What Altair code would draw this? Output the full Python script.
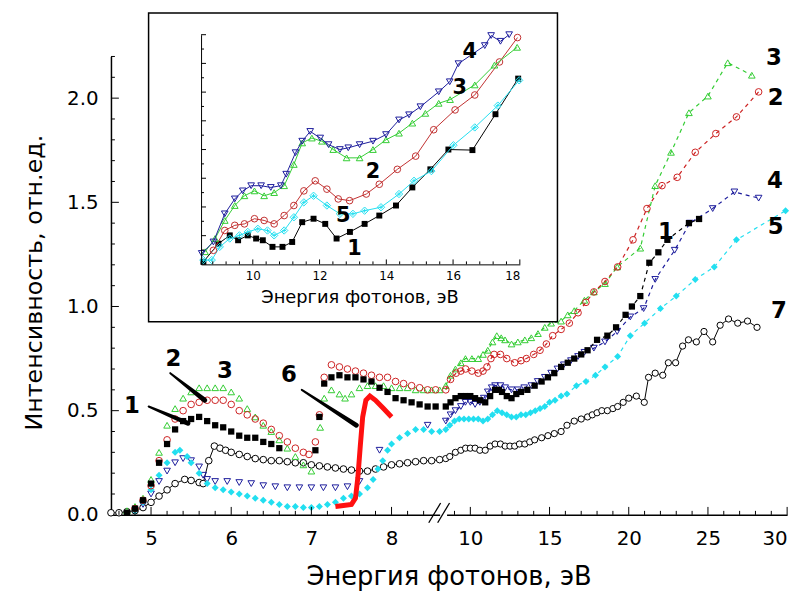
import altair as alt
import pandas as pd

FONT = "DejaVu Sans"
W, H = 683, 463

# ---------------- main plot, left part of the broken energy axis (eV) ----------------
S1_LEFT = [(4.7,0.01),(4.8,0.03),(4.9,0.07),(5.0,0.15),(5.1,0.25),(5.2,0.34),(5.3,0.41),(5.4,0.45),(5.5,0.46),(5.6,0.47),
           (5.7,0.45),(5.8,0.43),(5.9,0.42),(6.0,0.40),(6.1,0.38),(6.2,0.37),(6.3,0.37),(6.4,0.35),(6.5,0.34),(6.6,0.32),
           (7.05,0.31),(7.1,0.47),(7.16,0.63),(7.25,0.66),(7.35,0.67),(7.45,0.66),(7.55,0.66),(7.65,0.65),(7.75,0.64),
           (7.85,0.61),(7.95,0.59),(8.05,0.56),(8.15,0.55),(8.25,0.54),(8.35,0.53),(8.45,0.52),(8.55,0.52)]
S2_LEFT = [(4.8,0.03),(4.9,0.07),(5.0,0.14),(5.1,0.26),(5.2,0.36),(5.3,0.46),(5.4,0.50),(5.5,0.53),(5.6,0.54),(5.7,0.55),
           (5.8,0.55),(5.9,0.55),(6.0,0.53),(6.1,0.50),(6.2,0.48),(6.3,0.46),(6.4,0.44),(6.5,0.41),(6.6,0.38),(6.7,0.35),
           (6.8,0.32),(6.9,0.30),(6.97,0.29),(7.05,0.35),(7.1,0.48),(7.16,0.66),(7.25,0.72),(7.35,0.71),(7.45,0.70),
           (7.55,0.69),(7.65,0.68),(7.75,0.67),(7.85,0.66),(7.95,0.66),(8.05,0.64),(8.15,0.63),(8.25,0.62),(8.35,0.61),
           (8.45,0.60),(8.55,0.60)]
S3_LEFT = [(4.7,0.02),(4.8,0.04),(4.9,0.08),(5.0,0.17),(5.1,0.30),(5.2,0.43),(5.3,0.51),(5.4,0.56),(5.5,0.59),(5.6,0.61),
           (5.7,0.61),(5.8,0.61),(5.9,0.61),(6.0,0.59),(6.1,0.56),(6.2,0.51),(6.3,0.47),(6.4,0.43),(6.5,0.40),(6.6,0.36),
           (6.7,0.32),(6.8,0.28),(6.9,0.24),(7.0,0.21),(7.11,0.42),(7.16,0.56),(7.25,0.60),(7.35,0.58),(7.42,0.56),
           (7.5,0.58),(7.6,0.61),(7.7,0.62),(7.8,0.62),(7.9,0.62),(8.0,0.61),(8.1,0.61),(8.2,0.61),(8.3,0.60),(8.4,0.60),
           (8.5,0.60),(8.6,0.60)]
S4_LEFT = [(4.8,0.02),(4.9,0.05),(5.0,0.10),(5.1,0.16),(5.2,0.21),(5.3,0.25),(5.4,0.27),(5.5,0.26),(5.6,0.23),(5.65,0.19),
           (5.7,0.17),(5.8,0.16),(5.95,0.16),(6.1,0.155),(6.25,0.15),(6.4,0.14),(6.55,0.135),(6.7,0.13),(6.85,0.13),
           (7.0,0.13),(7.15,0.13),(7.3,0.13),(7.45,0.135),(7.6,0.16),(7.85,0.31),(8.45,0.43)]
S5_LEFT = [(4.8,0.02),(4.9,0.06),(5.0,0.12),(5.1,0.19),(5.2,0.25),(5.3,0.30),(5.36,0.31),(5.45,0.28),(5.5,0.25),(5.6,0.20),
           (5.7,0.15),(5.8,0.13),(5.9,0.12),(6.0,0.11),(6.1,0.10),(6.2,0.09),(6.3,0.08),(6.4,0.07),(6.5,0.06),(6.6,0.05),
           (6.7,0.04),(6.8,0.04),(6.9,0.035),(7.0,0.035),(7.1,0.04),(7.2,0.05),(7.3,0.06),(7.4,0.08),(7.5,0.09),(7.6,0.10),
           (7.7,0.13),(7.77,0.17),(7.83,0.22),(7.89,0.26),(7.95,0.31),(8.0,0.34),(8.1,0.37),(8.2,0.39),(8.3,0.41),
           (8.4,0.41),(8.5,0.40),(8.6,0.40)]
S6 = [(7.3,0.04),(7.4,0.045),(7.5,0.05),(7.55,0.08),(7.58,0.18),(7.61,0.33),(7.64,0.47),(7.68,0.55),(7.73,0.57),
      (7.8,0.55),(7.9,0.51),(8.0,0.47)]
S7_LEFT = [(4.5,0.01),(4.6,0.01),(4.7,0.015),(4.8,0.02),(4.9,0.035),(5.0,0.06),(5.1,0.09),(5.2,0.12),(5.3,0.15),(5.42,0.17),
           (5.5,0.165),(5.6,0.155),(5.65,0.15),(5.72,0.26),(5.79,0.33),(5.86,0.32),(5.93,0.31),(6.0,0.30),(6.1,0.29),
           (6.2,0.28),(6.3,0.27),(6.4,0.265),(6.5,0.26),(6.6,0.26),(6.7,0.255),(6.8,0.25),(6.9,0.25),(7.0,0.24),
           (7.1,0.235),(7.2,0.23),(7.3,0.225),(7.4,0.22),(7.5,0.215),(7.6,0.21),(7.7,0.21),(7.8,0.22),(7.9,0.23),
           (8.0,0.24),(8.1,0.245),(8.2,0.25),(8.3,0.255),(8.4,0.26),(8.5,0.26),(8.6,0.265)]

# ---------------- main plot, right part of the broken axis (eV) ----------------
S1_RIGHT = [(8.45,0.52),(8.75,0.54),(9.06,0.56),(9.4,0.57),(9.69,0.57),(10.0,0.57),(10.3,0.56),(10.6,0.55),(10.94,0.54),
            (11.25,0.57),(11.56,0.60),(11.8,0.60),(12.0,0.59),(12.3,0.57),(12.6,0.56),(12.9,0.58),(13.2,0.59),(13.6,0.60),
            (14.06,0.62),(14.5,0.64),(14.9,0.66),(15.3,0.68),(15.73,0.71),(16.15,0.73),(16.56,0.75),(17.0,0.77),
            (17.4,0.79),(18.0,0.84),(18.65,0.86),(19.2,0.90),(19.8,0.96),(20.2,1.00),(20.73,1.05),(21.3,1.21),
            (21.87,1.26),(22.44,1.32),(23.8,1.40),(24.44,1.42)]
S2_RIGHT = [(8.45,0.60),(8.75,0.65),(9.1,0.68),(9.4,0.69),(9.7,0.70),(10.1,0.69),(10.5,0.68),(10.8,0.69),(11.05,0.71),
            (11.3,0.75),(11.5,0.77),(11.9,0.77),(12.3,0.75),(12.8,0.73),(13.2,0.74),(13.54,0.75),(14.0,0.77),(14.4,0.79),
            (14.8,0.82),(15.2,0.86),(15.73,0.89),(16.25,0.92),(16.8,0.97),(17.3,1.02),(17.8,1.07),(18.5,1.12),
            (19.3,1.19),(20.27,1.32),(21.15,1.47),(22.1,1.58),(23.06,1.62),(24.2,1.74),(25.5,1.83),(26.8,1.91),(28.2,2.03)]
S3_RIGHT = [(8.45,0.62),(8.75,0.67),(9.06,0.70),(9.4,0.73),(9.69,0.75),(10.1,0.75),(10.5,0.75),(10.8,0.77),(11.1,0.79),
            (11.4,0.83),(11.67,0.86),(11.95,0.85),(12.19,0.84),(12.6,0.82),(13.0,0.83),(13.44,0.84),(13.85,0.85),
            (14.27,0.87),(14.7,0.90),(15.1,0.92),(15.73,0.93),(16.15,0.96),(16.56,0.98),(17.2,1.03),(17.8,1.07),
            (18.5,1.11),(19.27,1.19),(20.73,1.28),(21.67,1.58),(22.67,1.74),(23.8,1.93),(25.0,2.01),(26.25,2.17),(27.77,2.11)]
S4_RIGHT = [(8.45,0.45),(8.75,0.48),(9.06,0.50),(9.4,0.52),(9.69,0.54),(10.0,0.54),(10.3,0.53),(10.6,0.54),(10.85,0.56),
            (11.1,0.59),(11.35,0.61),(11.56,0.62),(11.9,0.62),(12.2,0.61),(12.6,0.60),(13.0,0.60),(13.4,0.61),(13.85,0.62),
            (14.25,0.64),(14.7,0.66),(15.1,0.68),(15.5,0.70),(15.9,0.72),(16.35,0.74),(16.8,0.76),(17.2,0.78),(17.8,0.80),
            (18.5,0.83),(19.27,0.88),(20.1,0.95),(20.94,0.99),(21.67,1.13),(22.9,1.27),(23.85,1.40),(25.3,1.47),
            (26.67,1.55),(28.2,1.52)]
S5_RIGHT = [(8.45,0.41),(8.7,0.43),(9.0,0.45),(9.3,0.46),(9.6,0.46),(9.9,0.46),(10.2,0.46),(10.5,0.46),(10.8,0.45),
            (11.1,0.46),(11.4,0.48),(11.7,0.50),(12.0,0.49),(12.3,0.48),(12.6,0.47),(12.9,0.47),(13.2,0.48),(13.5,0.48),
            (13.8,0.49),(14.1,0.50),(14.4,0.51),(14.7,0.52),(15.0,0.54),(15.35,0.55),(15.73,0.57),(16.1,0.58),(16.7,0.62),
            (17.3,0.64),(17.9,0.67),(18.5,0.71),(19.3,0.76),(20.1,0.86),(21.0,0.92),(22.0,0.99),(23.0,1.05),(24.2,1.13),
            (25.4,1.19),(26.8,1.32),(29.9,1.46)]
S7_RIGHT = [(8.45,0.27),(8.7,0.28),(9.06,0.30),(9.4,0.31),(9.7,0.32),(10.0,0.32),(10.3,0.32),(10.6,0.31),(10.94,0.31),
            (11.25,0.33),(11.56,0.34),(11.9,0.34),(12.2,0.33),(12.5,0.33),(12.8,0.33),(13.1,0.34),(13.44,0.34),(13.75,0.35),
            (14.06,0.36),(14.5,0.37),(14.9,0.38),(15.3,0.39),(15.73,0.40),(16.1,0.43),(16.56,0.45),(17.0,0.46),(17.4,0.47),
            (17.7,0.48),(18.0,0.49),(18.3,0.50),(18.65,0.50),(19.0,0.51),(19.3,0.52),(19.65,0.54),(20.0,0.56),(20.48,0.57),
            (20.98,0.54),(21.25,0.66),(21.67,0.68),(22.15,0.67),(22.5,0.73),(22.96,0.73),(23.4,0.81),(23.77,0.84),
            (24.27,0.83),(24.75,0.88),(25.3,0.83),(25.77,0.91),(26.3,0.94),(26.88,0.92),(27.5,0.93),(28.1,0.90)]

# ---------------- inset (8.5–18 eV, arbitrary units) ----------------
IN1 = [(8.52,0.09),(8.97,0.72),(9.31,1.01),(9.56,0.84),(9.85,1.01),(10.1,0.9),(10.3,0.84),(10.59,0.61),(10.89,0.61),
       (11.18,0.78),(11.48,1.47),(11.82,1.59),(12.17,1.41),(12.51,0.9),(12.91,1.13),(13.35,1.41),(13.79,1.7),(14.29,2.05),
       (14.78,2.68),(15.32,3.31),(15.86,4.0),(16.58,3.98),(17.27,5.23),(17.95,6.47)]
IN2 = [(8.82,0.49),(9.16,1.18),(9.46,1.36),(9.75,1.41),(10.05,1.59),(10.34,1.53),(10.64,1.41),(10.94,1.7),(11.23,2.05),
       (11.53,2.56),(11.87,2.91),(12.22,2.62),(12.56,2.28),(12.9,2.22),(13.4,2.45),(13.79,2.79),(14.33,3.31),(14.88,3.77),
       (15.42,4.69),(16.06,5.38),(16.65,5.9),(17.39,7.05),(17.93,7.9)]
IN3 = [(8.57,0.44),(8.87,0.9),(9.16,1.53),(9.46,2.05),(9.75,2.39),(10.05,2.56),(10.34,2.39),(10.64,2.5),(10.94,2.74),
       (11.23,3.48),(11.48,4.23),(11.77,4.4),(12.07,4.29),(12.41,4.0),(12.81,3.71),(13.2,3.71),(13.6,4.0),(13.99,4.34),
       (14.38,4.57),(14.78,4.92),(15.17,5.26),(15.57,5.61),(15.91,5.74),(16.65,6.25),(17.24,6.94),(17.92,7.56)]
IN4 = [(8.47,0.38),(8.82,0.78),(9.16,1.76),(9.46,2.28),(9.7,2.56),(9.95,2.74),(10.25,2.74),(10.54,2.68),(10.84,2.74),
       (11.0,3.14),(11.28,3.89),(11.48,4.29),(11.72,4.63),(12.02,4.40),(12.27,4.17),(12.61,4.0),(12.86,4.06),(13.2,4.17),
       (13.6,4.29),(13.99,4.52),(14.38,5.03),(14.68,5.21),(15.02,5.49),(15.57,6.01),(15.9,6.36),(16.16,6.99),
       (16.95,7.62),(17.14,7.97),(17.42,7.77),(17.68,8.0)]
IN5 = [(8.52,0.15),(8.77,0.15),(9.01,0.61),(9.31,0.9),(9.6,1.01),(9.85,1.13),(10.15,1.24),(10.44,1.18),(10.64,1.01),
       (10.94,1.18),(11.23,1.64),(11.53,2.16),(11.82,2.39),(12.22,2.05),(12.61,1.76),(13.0,1.76),(13.35,1.87),
       (13.84,1.99),(14.38,2.45),(14.83,2.91),(15.35,3.25),(16.01,4.15),(16.65,4.77),(17.34,5.53),(17.98,6.41)]

# ---------------- curve numbers and arrows ----------------
LEFT_LABELS = [("1", 4.76, 0.52), ("2", 5.28, 0.75), ("3", 5.92, 0.69), ("6", 6.72, 0.67)]
RIGHT_LABELS = [("3", 29.17, 2.19), ("2", 29.27, 2.0), ("4", 29.23, 1.60), ("5", 29.27, 1.38),
                ("1", 22.35, 1.355), ("7", 29.48, 0.98)]
INSET_LABELS = [("4", 16.5, 7.39), ("3", 16.2, 6.13), ("2", 13.6, 3.2), ("5", 12.71, 1.7), ("1", 13.05, 0.55)]
ARROWS = [("1", 4.97, 0.52, 5.46, 0.44), ("2", 5.24, 0.68, 5.67, 0.55), ("6", 6.88, 0.60, 7.56, 0.43)]

# ---------------- tick values ----------------
XL_TICKS = [5, 6, 7, 8]
XL_MINOR = [4.6, 4.8, 5.2, 5.4, 5.6, 5.8, 6.2, 6.4, 6.6, 6.8, 7.2, 7.4, 7.6, 7.8, 8.2, 8.4]
XR_TICKS = [10, 15, 20, 25, 30]
XR_MINOR = [9, 11, 12, 13, 14, 16, 17, 18, 19, 21, 22, 23, 24, 26, 27, 28, 29]
Y_TICKS = [0.0, 0.5, 1.0, 1.5, 2.0]
Y_MINOR = [0.1, 0.2, 0.3, 0.4, 0.6, 0.7, 0.8, 0.9, 1.1, 1.2, 1.3, 1.4, 1.6, 1.7, 1.8, 1.9, 2.1, 2.2]
XI_TICKS = [10, 12, 14, 16, 18]
XI_MINOR = [8.8, 9.2, 9.6, 10.4, 10.8, 11.2, 11.6, 12.4, 12.8, 13.2, 13.6, 14.4, 14.8, 15.2, 15.6, 16.4, 16.8, 17.2, 17.6]
YI_TICKS = [1, 2, 3, 4, 5, 6, 7, 8]
YI_MINOR = [0.5, 1.5, 2.5, 3.5, 4.5, 5.5, 6.5, 7.5]

BLACK, RED, GREEN, NAVY, CYAN, RED6 = "#000000", "#cc2222", "#33cc33", "#1c1c9c", "#22dff0", "#ff1010"


def tab(pairs):
    return pd.DataFrame(pairs, columns=["x", "y"])


AX = dict(grid=False, ticks=False, tickSize=0, domainColor="black", labelColor="black", labelFont=FONT)
TT = dict(titleFont=FONT, titleFontWeight="normal", titleColor="black", titleAlign="center",
          titleBaseline="alphabetic")

X_L = alt.X("x:Q", scale=alt.Scale(domain=[4.5, 8.6], range=[0, 332], nice=False, zero=False),
            axis=alt.Axis(orient="bottom", values=XL_TICKS, format="d", labelFontSize=20, labelPadding=14,
                          domainWidth=1.5, title="Энергия фотонов, эВ", titleFontSize=26, titleX=341, titleY=70,
                          **TT, **AX))
Y_L = alt.Y("y:Q", scale=alt.Scale(domain=[0, 2.2], nice=False, zero=False),
            axis=alt.Axis(orient="left", values=Y_TICKS, format=".1f", labelFontSize=20, labelPadding=13,
                          domainWidth=1.5, title="Интенсивность, отн.ед.", titleFontSize=24, titleX=-70,
                          titleY=228, titleAngle=270, **TT, **AX))
X_R = alt.X("x:Q", scale=alt.Scale(domain=[8.5, 30], range=[339, 683], nice=False, zero=False),
            axis=alt.Axis(orient="bottom", values=XR_TICKS, format="d", labelFontSize=20, labelPadding=14,
                          domainWidth=1.5, title=None, **AX))
Y_R = alt.Y("y:Q", scale=alt.Scale(domain=[0, 2.2], nice=False, zero=False), axis=None)
X_I = alt.X("x:Q", scale=alt.Scale(domain=[8.45, 18], range=[91, 413], nice=False, zero=False),
            axis=alt.Axis(orient="bottom", offset=-253, values=XI_TICKS, format="d", labelFontSize=12,
                          labelPadding=6, domainWidth=1, title="Энергия фотонов, эВ", titleFontSize=18,
                          titleX=251, titleY=39, zindex=1, **TT, **AX))
Y_I = alt.Y("y:Q", scale=alt.Scale(domain=[0, 8], range=[210, -22], nice=False, zero=False),
            axis=alt.Axis(orient="left", offset=-91, labels=False, domainWidth=1, title=None, zindex=1, **AX))


def pts(pairs, xe, ye, shape, color, filled=False, size=45, fill=None, sw=1.0):
    kw = dict(shape=shape, size=size, strokeWidth=sw, opacity=1, filled=filled)
    if fill is not None:
        kw.update(fill=fill, stroke=color)
    else:
        kw.update(color=color)
    return alt.Chart(tab(pairs)).mark_point(**kw).encode(x=xe, y=ye)


def line(pairs, xe, ye, color, width=1.0, dash=None):
    kw = dict(color=color, strokeWidth=width)
    if dash:
        kw["strokeDash"] = dash
    return alt.Chart(tab(pairs)).mark_line(**kw).encode(x=xe, y=ye)


def labels(items, xe, ye, size):
    d = pd.DataFrame(items, columns=["t", "x", "y"])
    return alt.Chart(d).mark_text(font=FONT, fontSize=size, fontWeight="bold", color="black",
                                  align="center", baseline="middle").encode(x=xe, y=ye, text="t:N")


def xticks(values, xe, ybase, length):
    return alt.Chart(pd.DataFrame({"x": values})).mark_rule(color="black", strokeWidth=1).encode(
        x=xe, y=alt.value(ybase), y2=alt.value(ybase - length))


def yticks(values, ye, xbase, length):
    return alt.Chart(pd.DataFrame({"y": values})).mark_rule(color="black", strokeWidth=1).encode(
        y=ye, x=alt.value(xbase), x2=alt.value(xbase + length))


def fixed_rule(x1, y1, x2, y2, width=1.3):
    return alt.Chart(pd.DataFrame({"k": [0]})).mark_rule(color="black", strokeWidth=width).encode(
        x=alt.value(x1), y=alt.value(y1), x2=alt.value(x2), y2=alt.value(y2))


arrow_rows = []
for name, x0, y0, x1, y1 in ARROWS:
    arrow_rows.append({"id": name, "x": x0, "y": y0, "w": 2.0})
    arrow_rows.append({"id": name, "x": x1, "y": y1, "w": 5.0})
arrows = alt.Chart(pd.DataFrame(arrow_rows)).mark_trail(color="black").encode(
    x=X_L, y=Y_L, size=alt.Size("w:Q", scale=None, legend=None), detail="id:N")

left = alt.layer(
    line(S7_LEFT, X_L, Y_L, BLACK, 1),
    pts(S7_LEFT, X_L, Y_L, "circle", BLACK, filled=True, fill="white"),
    pts(S4_LEFT, X_L, Y_L, "triangle-down", NAVY),
    pts(S5_LEFT, X_L, Y_L, "diamond", CYAN, filled=True, size=50),
    pts(S3_LEFT, X_L, Y_L, "triangle-up", GREEN),
    pts(S2_LEFT, X_L, Y_L, "circle", RED),
    pts(S1_LEFT, X_L, Y_L, "square", BLACK, filled=True, size=40),
    line(S6, X_L, Y_L, RED6, 5),
    arrows,
    labels(LEFT_LABELS, X_L, Y_L, 23),
    xticks(XL_TICKS, X_L, H, 8),
    xticks(XL_MINOR, X_L, H, 4),
    yticks(Y_TICKS[1:], Y_L, 0, 8),
    yticks(Y_MINOR, Y_L, 0, 4),
    fixed_rule(321, 471, 333, 451),
    fixed_rule(330, 471, 342, 451),
)

DASH = [4, 4]
right = alt.layer(
    line(S7_RIGHT, X_R, Y_R, BLACK, 1),
    pts(S7_RIGHT, X_R, Y_R, "circle", BLACK, filled=True, fill="white", size=40),
    line(S5_RIGHT, X_R, Y_R, CYAN, 1.2, DASH),
    pts(S5_RIGHT, X_R, Y_R, "diamond", CYAN, filled=True, size=50),
    line(S4_RIGHT, X_R, Y_R, NAVY, 1.2, DASH),
    pts(S4_RIGHT, X_R, Y_R, "triangle-down", NAVY),
    line(S3_RIGHT, X_R, Y_R, GREEN, 1.2, DASH),
    pts(S3_RIGHT, X_R, Y_R, "triangle-up", GREEN),
    line(S2_RIGHT, X_R, Y_R, RED, 1.2, DASH),
    pts(S2_RIGHT, X_R, Y_R, "circle", RED),
    line(S1_RIGHT, X_R, Y_R, BLACK, 1.2, DASH),
    pts(S1_RIGHT, X_R, Y_R, "square", BLACK, filled=True, size=40),
    labels(RIGHT_LABELS, X_R, Y_R, 23),
    xticks(XR_TICKS, X_R, H, 8),
    xticks(XR_MINOR, X_R, H, 4),
)

inset_frame = alt.Chart(pd.DataFrame({"k": [0]})).mark_rect(
    fill="white", stroke="black", strokeWidth=1.5).encode(
    x=alt.value(38), x2=alt.value(451), y=alt.value(-44), y2=alt.value(268))

cross = "M-0.7,0L0.7,0M0,-0.7L0,0.7"
inset = alt.layer(
    inset_frame,
    line(IN1, X_I, Y_I, BLACK, 1),
    pts(IN1, X_I, Y_I, "square", BLACK, filled=True, size=36),
    line(IN5, X_I, Y_I, CYAN, 1),
    pts(IN5, X_I, Y_I, "diamond", CYAN, size=55),
    pts(IN5, X_I, Y_I, cross, CYAN, size=30),
    line(IN2, X_I, Y_I, "#c03030", 1),
    pts(IN2, X_I, Y_I, "circle", "#c03030", size=45),
    line(IN3, X_I, Y_I, GREEN, 1),
    pts(IN3, X_I, Y_I, "triangle-up", GREEN, size=45),
    line(IN4, X_I, Y_I, NAVY, 1),
    pts(IN4, X_I, Y_I, "triangle-down", NAVY, size=45),
    labels(INSET_LABELS, X_I, Y_I, 21),
    xticks(XI_TICKS, X_I, 210, 5),
    xticks(XI_MINOR, X_I, 210, 3),
    yticks(YI_TICKS, Y_I, 91, 5),
    yticks(YI_MINOR, Y_I, 91, 3),
)

chart = alt.layer(left, right, inset).resolve_scale(
    x="independent", y="independent"
).properties(
    width=W, height=H,
    padding={"left": 104, "top": 46, "right": 14, "bottom": 78},
    autosize=alt.AutoSizeParams(type="none"),
    background="white",
).configure_view(stroke=None)

chart.save("out.html", embed_options={"renderer": "svg", "actions": False})
